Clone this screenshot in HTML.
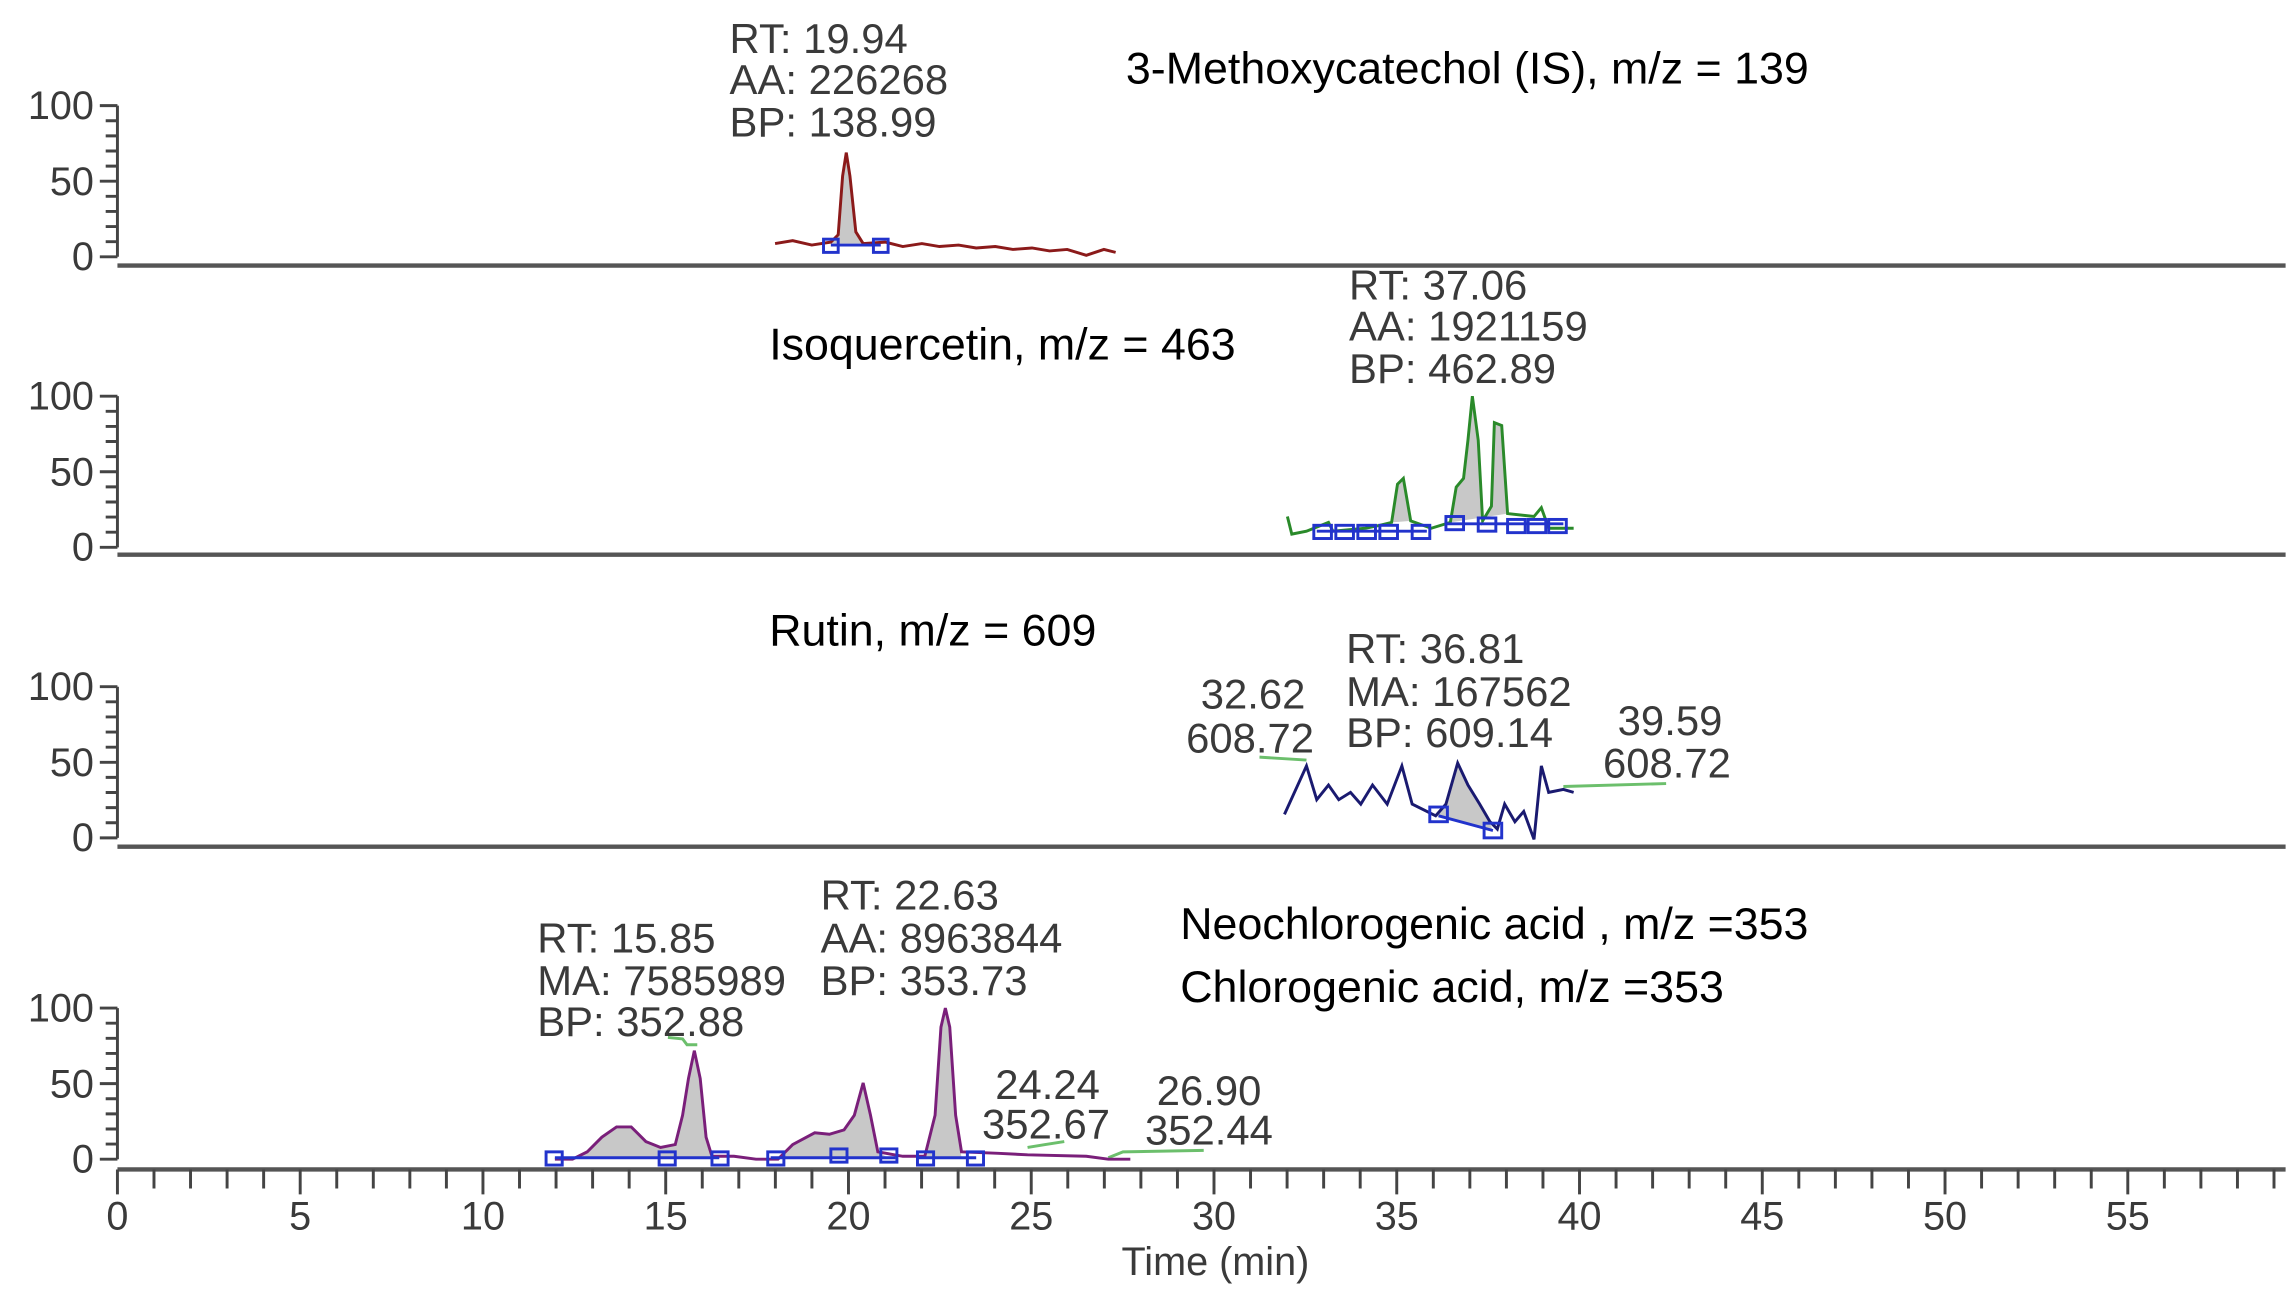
<!DOCTYPE html>
<html><head><meta charset="utf-8"><style>
html,body{margin:0;padding:0;background:#fff;}
svg{display:block}
.a{font-family:"Liberation Sans",Arial,sans-serif;font-size:28.5px;fill:#3a3a3a}
.t{font-family:"Liberation Sans",Arial,sans-serif;font-size:30.5px;fill:#000}
.k{font-family:"Liberation Sans",Arial,sans-serif;font-size:27px;fill:#3a3a3a;text-anchor:end}
.x{font-family:"Liberation Sans",Arial,sans-serif;font-size:27px;fill:#3a3a3a;text-anchor:middle}
</style></head><body>
<svg width="2290" height="1303" viewBox="0 0 1560 888" preserveAspectRatio="none" xmlns="http://www.w3.org/2000/svg">
<defs>
<g id="yax">
<line x1="80" y1="0" x2="80" y2="-103" stroke="#444" stroke-width="2"/>
<path d="M68 0H80M72 -10.3H80M72 -20.6H80M72 -30.9H80M72 -41.2H80M68 -51.5H80M72 -61.8H80M72 -72.1H80M72 -82.4H80M72 -92.7H80M68 -103H80" stroke="#444" stroke-width="2"/>
<text class="k" x="64" y="9">0</text>
<text class="k" x="64" y="-42">50</text>
<text class="k" x="64" y="-94">100</text>
</g>
</defs>

<g stroke="#555" stroke-width="3">
<line x1="80" y1="181" x2="1557" y2="181"/>
<line x1="80" y1="378" x2="1557" y2="378"/>
<line x1="80" y1="577" x2="1557" y2="577"/>
<line x1="80" y1="797" x2="1557" y2="797"/>
</g>
<use href="#yax" transform="translate(0,175)"/>
<use href="#yax" transform="translate(0,373)"/>
<use href="#yax" transform="translate(0,571)"/>
<use href="#yax" transform="translate(0,790)"/>

<!-- panel 1 -->
<polygon points="566,166 571,160 574,120 576.5,104 579,120 583,158 588,166" fill="#c8c8c8"/>
<polyline fill="none" stroke="#8b1a1a" stroke-width="2" points="528,166 540,164 553,167 566,165 571,160 574,120 576.5,104 579,120 583,158 588,166 603,165 615,168 628,166 640,168 653,167 665,169 678,168 690,170 703,169 715,171 727,170 740,174 752,170 760,172"/>
<line x1="566" y1="167" x2="600" y2="167" stroke="#2233cc" stroke-width="2"/>
<rect x="561" y="163" width="10" height="9" fill="none" stroke="#2233cc" stroke-width="2"/>
<rect x="595" y="163" width="10" height="9" fill="none" stroke="#2233cc" stroke-width="2"/>
<text class="a" x="497" y="36">RT: 19.94</text>
<text class="a" x="497" y="64">AA: 226268</text>
<text class="a" x="497" y="93">BP: 138.99</text>
<text class="t" x="767" y="57">3-Methoxycatechol (IS), m/z = 139</text>

<!-- panel 2 -->
<polygon points="948,356 952,330 956,326 961,355" fill="#c8c8c8"/>
<polygon points="988,356 992,332 997,326 1000,300 1003,270 1007,300 1010,355 1016,345 1018,288 1023,290 1027,350" fill="#c8c8c8"/>
<polyline fill="none" stroke="#2a8a2a" stroke-width="2" points="877,352 880,364 890,362 905,356 908,362 930,360 940,358 948,356 952,330 956,326 961,355 975,360 988,356 992,332 997,326 1000,300 1003,270 1007,300 1010,355 1016,345 1018,288 1023,290 1027,350 1045,352 1050,346 1055,360 1072,360"/>
<g fill="none" stroke="#2233cc" stroke-width="2">
<line x1="897" y1="362" x2="972" y2="362"/>
<line x1="985" y1="357" x2="1065" y2="357"/>
<rect x="895" y="358" width="12" height="9"/><rect x="910" y="358" width="12" height="9"/><rect x="925" y="358" width="12" height="9"/><rect x="940" y="358" width="12" height="9"/><rect x="962" y="358" width="12" height="9"/>
<rect x="985" y="352" width="12" height="9"/><rect x="1007" y="353" width="12" height="9"/><rect x="1027" y="354" width="12" height="9"/><rect x="1041" y="354" width="12" height="9"/><rect x="1055" y="354" width="12" height="9"/>
</g>
<text class="a" x="919" y="204">RT: 37.06</text>
<text class="a" x="919" y="232">AA: 1921159</text>
<text class="a" x="919" y="261">BP: 462.89</text>
<text class="t" x="524" y="245">Isoquercetin, m/z = 463</text>

<!-- panel 3 -->
<polygon points="978,556 985,548 993,520 1000,535 1008,548 1015,560 1017,567" fill="#c8c8c8"/>
<polyline fill="none" stroke="#6cbf6c" stroke-width="2" points="858,516 890,518"/>
<polyline fill="none" stroke="#6cbf6c" stroke-width="2" points="1065,536 1135,534"/>
<polyline fill="none" stroke="#1a1a70" stroke-width="2" points="875,555 890,522 897,545 905,535 912,545 920,540 927,548 935,535 945,548 955,522 962,548 970,552 978,556 985,548 993,520 1000,535 1008,548 1015,560 1020,565 1025,548 1032,560 1038,553 1045,572 1050,522 1055,540 1065,538 1072,540"/>
<g fill="none" stroke="#2233cc" stroke-width="2">
<line x1="980" y1="556" x2="1017" y2="566"/>
<rect x="974" y="550" width="12" height="10"/><rect x="1011" y="561" width="12" height="10"/>
</g>
<text class="a" x="818" y="483">32.62</text>
<text class="a" x="808" y="513">608.72</text>
<text class="a" x="917" y="452">RT: 36.81</text>
<text class="a" x="917" y="481">MA: 167562</text>
<text class="a" x="917" y="509">BP: 609.14</text>
<text class="a" x="1102" y="501">39.59</text>
<text class="a" x="1092" y="530">608.72</text>
<text class="t" x="524" y="440">Rutin, m/z = 609</text>

<!-- panel 4 -->
<polygon points="390,789 400,785 410,775 420,768 430,768 440,778 450,782 460,780 465,760 469,735 473,716 477,735 481,775 485,789" fill="#c8c8c8"/>
<polygon points="530,789 540,780 555,772 565,773 575,770 582,760 588,738 593,760 598,785 605,789" fill="#c8c8c8"/>
<polygon points="630,789 637,760 641,700 644,687 647,700 651,760 655,789" fill="#c8c8c8"/>
<g fill="none" stroke="#6cbf6c" stroke-width="2">
<polyline points="455,707 465,708 468,712 475,712"/>
<polyline points="700,782 712,780 725,778"/>
<polyline points="755,789 765,785 820,784"/>
</g>
<polyline fill="none" stroke="#7a1f7a" stroke-width="2" points="378,790 390,790 400,785 410,775 420,768 430,768 440,778 450,782 460,780 465,760 469,735 473,716 477,735 481,775 485,788 500,788 515,790 530,790 540,780 555,772 565,773 575,770 582,760 588,738 593,760 598,785 615,788 630,788 637,760 641,700 644,687 647,700 651,760 655,785 680,786 700,787 740,788 755,790 770,790"/>
<g fill="none" stroke="#2233cc" stroke-width="2">
<line x1="378" y1="789" x2="490" y2="789"/><line x1="525" y1="789" x2="610" y2="789"/><line x1="625" y1="789" x2="665" y2="789"/>
<rect x="372" y="785" width="11" height="9"/><rect x="449" y="785" width="11" height="9"/><rect x="485" y="785" width="11" height="9"/><rect x="523" y="785" width="11" height="9"/><rect x="566" y="783" width="11" height="9"/><rect x="600" y="783" width="11" height="9"/><rect x="625" y="785" width="11" height="9"/><rect x="659" y="785" width="11" height="9"/>
</g>
<text class="a" x="366" y="649">RT: 15.85</text>
<text class="a" x="366" y="678">MA: 7585989</text>
<text class="a" x="366" y="706">BP: 352.88</text>
<text class="a" x="559" y="620">RT: 22.63</text>
<text class="a" x="559" y="649">AA: 8963844</text>
<text class="a" x="559" y="678">BP: 353.73</text>
<text class="a" x="678" y="749">24.24</text>
<text class="a" x="669" y="776">352.67</text>
<text class="a" x="788" y="753">26.90</text>
<text class="a" x="780" y="780">352.44</text>
<text class="t" x="804" y="640">Neochlorogenic acid , m/z =353</text>
<text class="t" x="804" y="683">Chlorogenic acid, m/z =353</text>

<path stroke="#444" stroke-width="2" d="M80 797V814M104.9 797V810M129.8 797V810M154.7 797V810M179.6 797V810M204.5 797V814M229.4 797V810M254.3 797V810M279.2 797V810M304.1 797V810M329 797V814M353.9 797V810M378.8 797V810M403.7 797V810M428.6 797V810M453.5 797V814M478.4 797V810M503.3 797V810M528.2 797V810M553.1 797V810M578 797V814M602.9 797V810M627.8 797V810M652.7 797V810M677.6 797V810M702.5 797V814M727.4 797V810M752.3 797V810M777.2 797V810M802.1 797V810M827 797V814M851.9 797V810M876.8 797V810M901.7 797V810M926.6 797V810M951.5 797V814M976.4 797V810M1001.3 797V810M1026.2 797V810M1051.1 797V810M1076 797V814M1100.9 797V810M1125.8 797V810M1150.7 797V810M1175.6 797V810M1200.5 797V814M1225.4 797V810M1250.3 797V810M1275.2 797V810M1300.1 797V810M1325 797V814M1349.9 797V810M1374.8 797V810M1399.7 797V810M1424.6 797V810M1449.5 797V814M1474.4 797V810M1499.3 797V810M1524.2 797V810M1549.1 797V810"/>
<text class="x" x="80" y="838">0</text>
<text class="x" x="204.5" y="838">5</text>
<text class="x" x="329" y="838">10</text>
<text class="x" x="453.5" y="838">15</text>
<text class="x" x="578" y="838">20</text>
<text class="x" x="702.5" y="838">25</text>
<text class="x" x="827" y="838">30</text>
<text class="x" x="951.5" y="838">35</text>
<text class="x" x="1076" y="838">40</text>
<text class="x" x="1200.5" y="838">45</text>
<text class="x" x="1325" y="838">50</text>
<text class="x" x="1449.5" y="838">55</text>
<text class="x" x="828" y="869">Time (min)</text>
</svg>
</body></html>
